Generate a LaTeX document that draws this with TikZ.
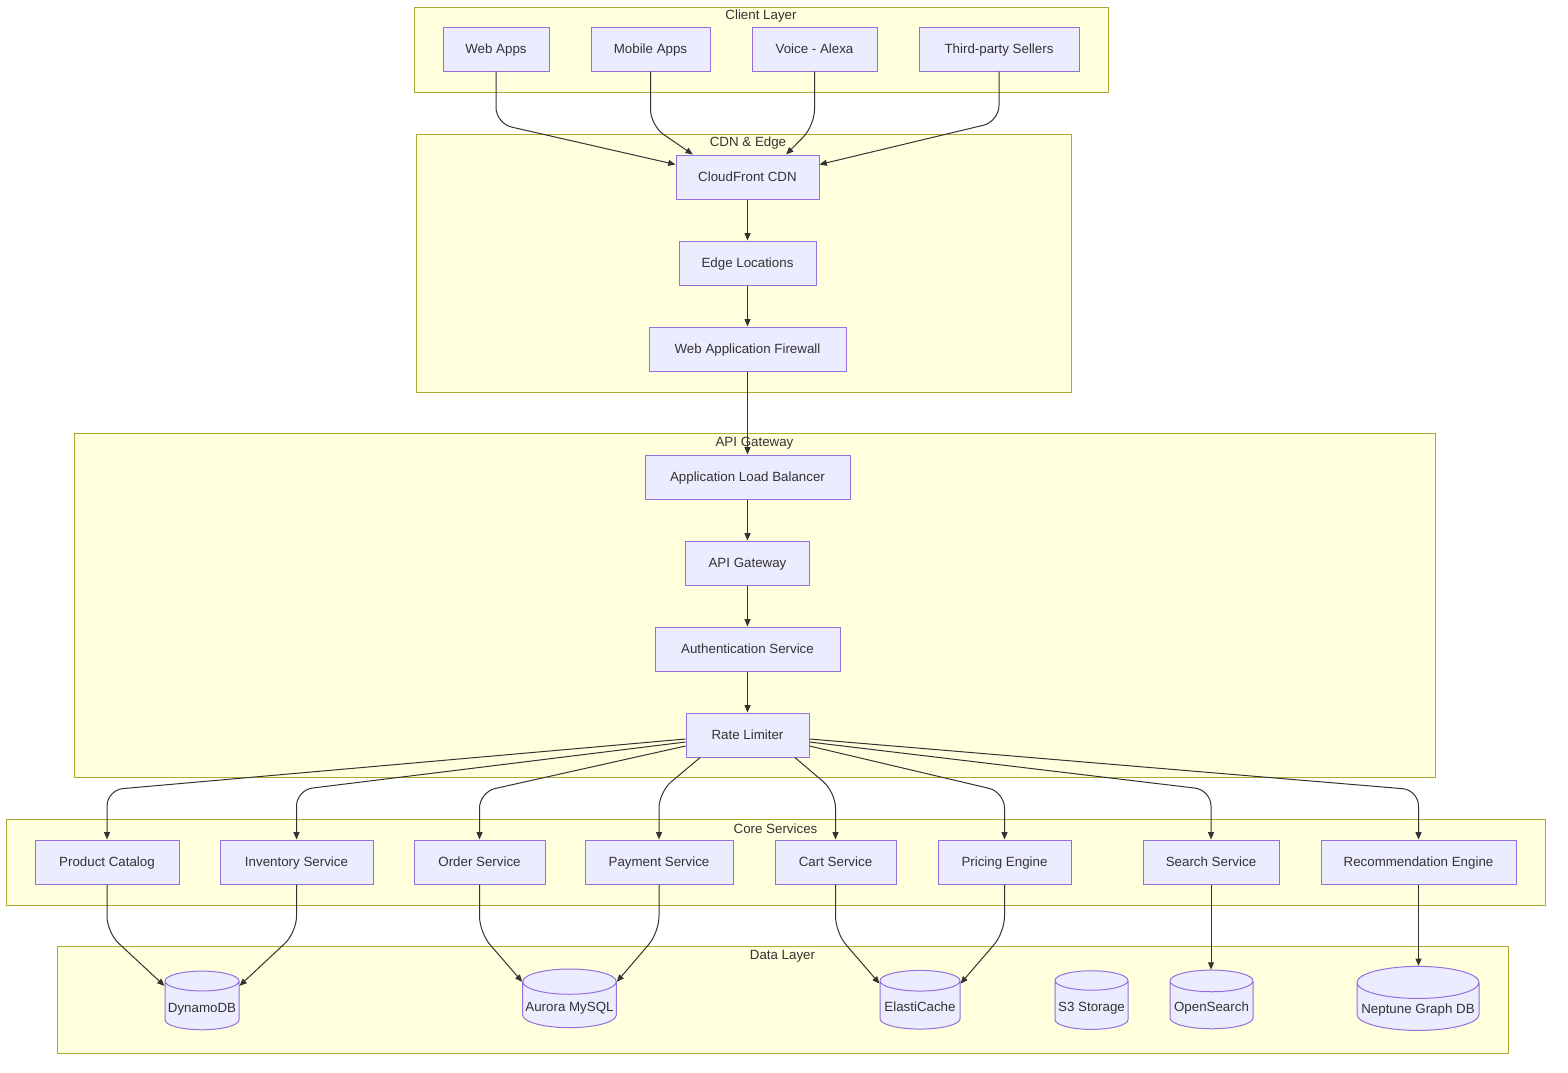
\documentclass[tikz,border=0pt]{standalone}
\usepackage{fontspec}
\setmainfont{Liberation Sans}
\usetikzlibrary{shapes.geometric, arrows.meta, positioning, calc}
\definecolor{layerfill}{HTML}{FFFFDE}
\definecolor{layerline}{HTML}{AAAA33}
\definecolor{boxfill}{HTML}{ECECFF}
\definecolor{boxline}{HTML}{9370DB}
\definecolor{ink}{HTML}{333333}
\begin{document}
\begin{tikzpicture}[x=0.75pt, y=-0.75pt, font=\fontsize{10}{12}\selectfont, text=ink,
  layer/.style={draw=layerline, fill=layerfill, line width=0.75pt},
  title/.style={inner sep=0pt},
  box/.style={draw=boxline, fill=boxfill, line width=0.75pt, minimum height=33pt, minimum width=#1*0.75pt, inner sep=2pt, text height=7.2pt, text depth=0pt},
  db/.style={cylinder, shape border rotate=90, aspect=0.27, draw=boxline, fill=boxfill, line width=0.75pt, minimum height=44pt, minimum width=#1*0.75pt, inner sep=2pt, text height=7.2pt, text depth=0pt},
  flow/.style={draw=ink, line width=0.75pt, -{Triangle[length=5.5pt,width=4.5pt]}},
  bendflow/.style={flow, rounded corners=12pt}]
\useasboundingbox (0,0) rectangle (1568,1072);

% client layer
\draw[layer] (414,7) rectangle (1108,92);
\node[title] (clientT) at (761,16) {Client Layer};
\node[box=106] (web) at (496,49) {Web Apps};
\node[box=119] (mobile) at (650.5,49) {Mobile Apps};
\node[box=125] (voice) at (814.5,49) {Voice - Alexa};
\node[box=160] (sellers) at (999,49) {Third-party Sellers};

% cdn and edge
\draw[layer] (416,134) rectangle (1071,392);
\node[title] (cdnT) at (748,143) {CDN \& Edge};
\node[box=143] (cdn) at (747.5,177) {CloudFront CDN};
\node[box=137] (edge) at (747.5,263) {Edge Locations};
\node[box=197] (waf) at (747.5,349) {Web Application Firewall};

% api gateway
\draw[layer] (74,433) rectangle (1435,777);
\node[title] (apiT) at (754.5,443) {API Gateway};
\node[box=205] (alb) at (747.5,477) {Application Load Balancer};
\node[box=124] (gw) at (747.5,563) {API Gateway};
\node[box=185] (auth) at (747.5,649) {Authentication Service};
\node[box=123] (limiter) at (747.5,735) {Rate Limiter};

% core services
\draw[layer] (6,819) rectangle (1545,905);
\node[title] (coreT) at (775.5,829) {Core Services};
\node[box=144] (catalog) at (107,862) {Product Catalog};
\node[box=153] (inventory) at (296.5,862) {Inventory Service};
\node[box=131] (order) at (479.5,862) {Order Service};
\node[box=148] (payment) at (659,862) {Payment Service};
\node[box=121] (cart) at (835.5,862) {Cart Service};
\node[box=133] (pricing) at (1004.5,862) {Pricing Engine};
\node[box=136] (search) at (1211,862) {Search Service};
\node[box=195] (recommend) at (1418.5,862) {Recommendation Engine};

% data layer
\draw[layer] (57,946) rectangle (1508,1053);
\node[title] (dataT) at (782.5,956) {Data Layer};
\node[db=74] (dynamo) at (202,1007.5) {DynamoDB};
\node[db=93] (aurora) at (569.5,1007) {Aurora MySQL};
\node[db=80] (cache) at (920,1007) {ElastiCache};
\node[db=73] (s3) at (1091.5,1007) {S3 Storage};
\node[db=83] (opensearch) at (1211.5,1007) {OpenSearch};
\node[db=122, minimum height=48pt] (neptune) at (1418,1009) {Neptune Graph DB};

% clients to cdn
\draw[bendflow] (web.south) -- ++(0,52) -- ([yshift=-7.5pt]cdn.north west);
\draw[bendflow] (mobile.south) -- ++(0,54) -- ([xshift=13pt]cdn.north west);
\draw[bendflow] (voice.south) -- ++(0,54) -- ([xshift=-25pt]cdn.north east);
\draw[bendflow] (sellers.south) -- ++(0,50) -- ([yshift=-7.5pt]cdn.north east);

% main chain
\draw[flow] (cdn) -- (edge);
\draw[flow] (edge) -- (waf);
\draw[flow] (waf) -- (alb);
\draw[flow] (alb) -- (gw);
\draw[flow] (gw) -- (auth);
\draw[flow] (auth) -- (limiter);

% limiter to services
\draw[bendflow] ([yshift=-3pt]limiter.west) -- (catalog.north |- 0,790) -- (catalog.north);
\draw[bendflow] ([yshift=-5.25pt]limiter.west) -- (inventory.north |- 0,790) -- (inventory.north);
\draw[bendflow] ([yshift=-8.25pt]limiter.west) -- (order.north |- 0,792) -- (order.north);
\draw[bendflow] ([xshift=-35.5pt]limiter.south) -- (payment.north |- 0,792) -- (payment.north);
\draw[bendflow] ([xshift=35.5pt]limiter.south) -- (cart.north |- 0,792) -- (cart.north);
\draw[bendflow] ([yshift=-8.25pt]limiter.east) -- (pricing.north |- 0,792) -- (pricing.north);
\draw[bendflow] ([yshift=-5.25pt]limiter.east) -- (search.north |- 0,790) -- (search.north);
\draw[bendflow] ([yshift=-3pt]limiter.east) -- (recommend.north |- 0,790) -- (recommend.north);

% services to stores
\draw[bendflow] (catalog.south) -- ++(0,48) -- (dynamo.150);
\draw[bendflow] (inventory.south) -- ++(0,48) -- (dynamo.30);
\draw[bendflow] (order.south) -- ++(0,48) -- (aurora.152);
\draw[bendflow] (payment.south) -- ++(0,48) -- (aurora.28);
\draw[bendflow] (cart.south) -- ++(0,48) -- (cache.150);
\draw[bendflow] (pricing.south) -- ++(0,48) -- (cache.30);
\draw[flow] (search.south) -- (search.south |- opensearch.north);
\draw[flow] (recommend.south) -- (recommend.south |- neptune.north);
\end{tikzpicture}
\end{document}
